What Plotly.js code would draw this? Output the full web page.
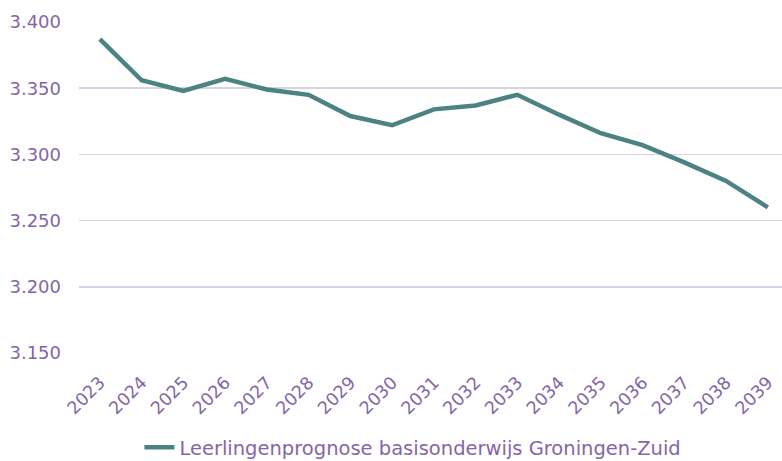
<!DOCTYPE html>
<html>
<head>
<meta charset="utf-8">
<script src="https://cdn.plot.ly/plotly-3.0.1.min.js"></script>
<style>html,body{margin:0;padding:0;background:#fff;}#chart{width:782px;height:461px;}</style>
</head>
<body>
<div id="chart"></div>
<script>
const years = ['2023','2024','2025','2026','2027','2028','2029','2030','2031','2032','2033','2034','2035','2036','2037','2038','2039'];
const leerlingen = [3387, 3356, 3348, 3357, 3349, 3345, 3329, 3322, 3334, 3337, 3345, 3330, 3316, 3307, 3294, 3280, 3260];
const seriesName = 'Leerlingenprognose basisonderwijs Groningen-Zuid';
const yTicks = [3150, 3200, 3250, 3300, 3350, 3400];

const purple = '#8466a6';
const fontFam = '"DejaVu Sans", sans-serif';

Plotly.newPlot('chart', [{
  type: 'scatter',
  mode: 'lines',
  x: years,
  y: leerlingen,
  name: seriesName,
  line: {color: '#4b8282', width: 4.5},
  showlegend: true
}], {
  width: 782, height: 461,
  margin: {l: 79, r: 0, t: 22, b: 108},
  paper_bgcolor: '#ffffff',
  plot_bgcolor: '#ffffff',
  separators: ',.',
  font: {family: fontFam, color: purple, size: 17},
  xaxis: {
    type: 'category',
    range: [-0.5, 16.34],
    showgrid: false,
    zeroline: false,
    showline: false,
    ticks: '',
    tickangle: -45,
    ticklabelstandoff: 15,
    tickfont: {size: 17.5, color: purple, family: fontFam}
  },
  yaxis: {
    range: [3150, 3400],
    tickvals: yTicks,
    tickformat: ',d',
    showgrid: true,
    gridcolor: '#d9d1e4',
    gridwidth: 1.5,
    zeroline: false,
    showline: false,
    ticks: '',
    ticklen: 0,
    ticklabelstandoff: 17,
    tickfont: {size: 18, color: purple, family: fontFam}
  },
  showlegend: true,
  legend: {
    orientation: 'h',
    x: 0.528, xanchor: 'center', xref: 'container',
    y: 0.029, yanchor: 'middle', yref: 'container',
    font: {size: 19.5, color: purple, family: fontFam},
    bgcolor: 'rgba(0,0,0,0)'
  }
}, {displayModeBar: false, staticPlot: true});
</script>
</body>
</html>
